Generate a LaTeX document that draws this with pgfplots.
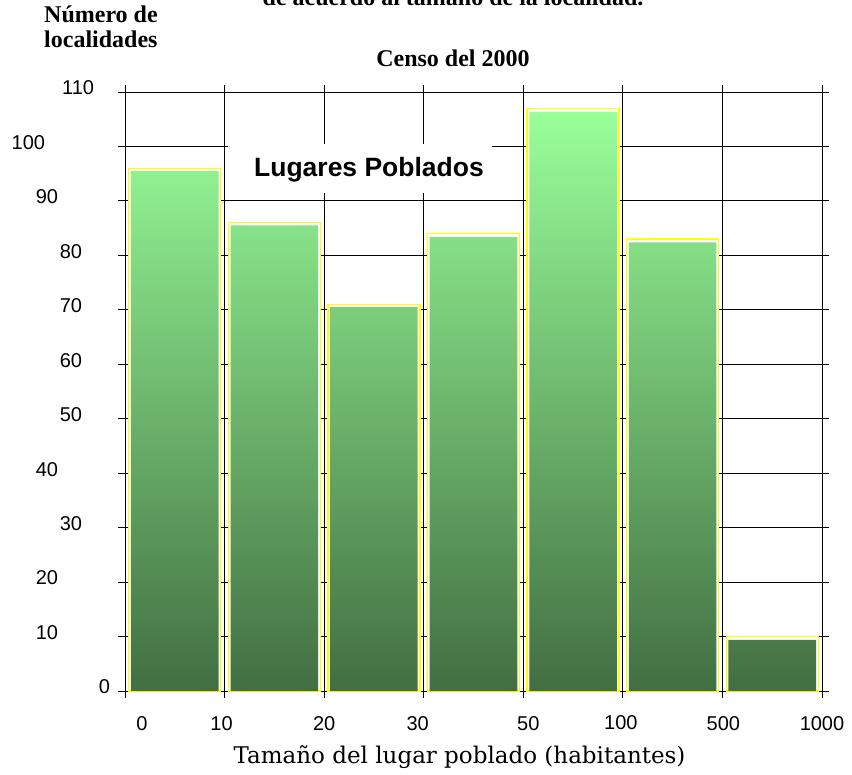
\documentclass[border=0pt]{standalone}
\usepackage{pgfplots}
\pgfplotsset{compat=1.18}
\usepackage{fontspec}
\setmainfont{Liberation Serif}
\newfontfamily\arial{Liberation Sans}
\newfontfamily\dvserif{DejaVu Serif}
\definecolor{barTop}{RGB}{153,255,153}
\definecolor{barBot}{RGB}{66,110,66}
\definecolor{barEdge}{RGB}{255,255,0}

% x tick label: shift #1 sideways, raise #2
\newcommand{\xl}[3]{\raisebox{#2}{\makebox[0pt][c]{\hspace{#1}\hspace{#1}#3}}}
% y tick label: right edge #1 left of the label point
\newcommand{\yl}[2]{\makebox[0pt][r]{#2\hspace{#1}}}

\begin{document}
\begin{tikzpicture}
\path[use as bounding box] (0pt,0pt) rectangle (852pt,-775pt);

\node[anchor=base, font=\bfseries\fontsize{24}{24}\selectfont] at (453pt,-6pt) {de acuerdo al tamaño de la localidad.};
\node[anchor=base west, font=\bfseries\fontsize{24}{24}\selectfont, inner sep=0pt] at (44pt,-23pt) {Número de};
\node[anchor=base west, font=\bfseries\fontsize{24}{24}\selectfont, inner sep=0pt] at (44pt,-48pt) {localidades};
\node[anchor=base, font=\bfseries\fontsize{24}{24}\selectfont] at (453pt,-67pt) {Censo del 2000};

\begin{axis}[
  at={(125pt,-691pt)}, anchor=south west,
  scale only axis, width=697pt, height=599pt,
  xmin=0, xmax=7, ymin=0, ymax=110,
  xtick={0,...,7},
  xticklabels={\xl{17pt}{0pt}{0}, \xl{-3pt}{0pt}{10}, \xl{0pt}{0pt}{20}, \xl{-6pt}{-5pt}{30},
               \xl{5pt}{-3pt}{50}, \xl{-2pt}{2pt}{100}, \xl{1pt}{-5pt}{500}, \xl{0pt}{-3pt}{1000}},
  ytick={0,10,...,110},
  yticklabels={\yl{0pt}{0}, \yl{52pt}{10}, \yl{52pt}{20}, \yl{28pt}{30}, \yl{52pt}{40}, \yl{28pt}{50},
               \yl{28pt}{60}, \yl{28pt}{70}, \yl{28pt}{80}, \yl{52pt}{90}, \yl{65pt}{100}, \yl{16pt}{110}},
  ticklabel style={font=\arial\fontsize{20}{20}\selectfont, inner sep=0pt},
  xticklabel style={anchor=center, yshift=-26pt},
  yticklabel style={anchor=center, xshift=-8pt, yshift=4pt},
  grid=major, major grid style={black, line width=0.9pt},
  axis line style={black, line width=0.9pt},
  tick style={black, line width=0.9pt},
  tick align=outside, major tick length=7pt,
  xlabel={\dvserif\fontsize{23}{23}\selectfont Tamaño del lugar poblado (habitantes)},
  xlabel style={at={(0.48,0)}, anchor=base, yshift=-72pt},
]
% outer frame of each bar
\addplot[ybar, bar width=0.925, bar shift=0pt, fill=white, draw=barEdge, line width=1.3pt]
  coordinates {(0.5,96) (1.5,86) (2.5,71) (3.5,84) (4.5,107) (5.5,83) (6.5,10)};
% shaded body
\addplot[ybar, bar width=0.88, bar shift=0pt, draw=none, top color=barTop, bottom color=barBot]
  coordinates {(0.5,95.5) (1.5,85.5) (2.5,70.5) (3.5,83.4) (4.5,106.4) (5.5,82.4) (6.5,9.4)};
\end{axis}

\node[fill=white, inner sep=0pt, minimum width=264pt, minimum height=49pt] at (360pt,-168.5pt) {};
\node[font=\arial\bfseries\fontsize{26.5}{26.5}\selectfont] at (369pt,-170pt) {Lugares Poblados};
\end{tikzpicture}
\end{document}
